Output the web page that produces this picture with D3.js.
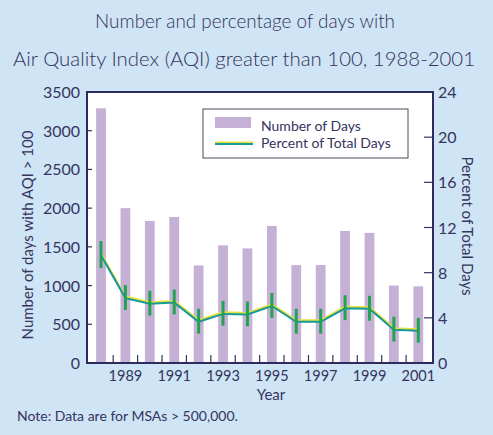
<!DOCTYPE html>
<html><head><meta charset="utf-8">
<script src="https://cdn.jsdelivr.net/npm/d3@7"></script>
<style>
html,body{margin:0;padding:0;background:#cfe4f4;}
svg{display:block;}
</style></head>
<body>
<svg id="chart" width="493" height="435"></svg>
<script>
const years = [1988,1989,1990,1991,1992,1993,1994,1995,1996,1997,1998,1999,2000,2001];
const numberOfDays = [3290,2000,1835,1885,1260,1520,1480,1770,1265,1265,1705,1680,1000,990];
const percentOfDays = [9.6,5.8,5.3,5.4,3.7,4.4,4.35,5.1,3.7,3.7,4.9,4.85,3.0,2.9];
const percentError = [1.2,1.1,1.1,1.1,1.1,1.1,1.1,1.1,1.1,1.1,1.1,1.1,1.1,1.1];
const leftTicks = [0,500,1000,1500,2000,2500,3000,3500];
const rightTicks = [0,4,8,12,16,20,24];
const yearLabels = [1989,1991,1993,1995,1997,1999,2001];
const titleLines = ["Number and percentage of days with","Air Quality Index (AQI) greater than 100, 1988-2001"];
const legendLabels = ["Number of Days","Percent of Total Days"];

const svg = d3.select("#chart");
const P = {l:87, r:433, t:92, b:363};
const ink = "#35345e";
const font = "Lato, 'Open Sans', sans-serif";

svg.append("rect").attr("width",493).attr("height",435).attr("fill","#cfe4f4");

const x = d3.scaleBand().domain(years).range([88.8, 430.5]).padding(0);
const yL = d3.scaleLinear().domain([0,3500]).range([P.b, P.t]);
const yR = d3.scaleLinear().domain([0,24]).range([P.b, P.t]);

svg.append("rect").attr("x",P.l).attr("y",P.t).attr("width",P.r-P.l).attr("height",P.b-P.t).attr("fill","#ffffff");

// title
const titleX = [95, 13], titleW = [300, 462], titleY = [28, 66];
svg.append("g").selectAll("text").data(titleLines).join("text")
  .attr("x",(d,i)=>titleX[i]).attr("y",(d,i)=>titleY[i])
  .attr("textLength",(d,i)=>titleW[i]).attr("lengthAdjust","spacingAndGlyphs")
  .attr("font-family",font).attr("font-weight",300)
  .attr("font-size",20.5).attr("fill","#33325e").text(d=>d);

// bars
const bw = 9.8;
const cx = d=>x(d)+x.bandwidth()/2;
svg.append("g").selectAll("rect").data(years).join("rect")
  .attr("x",d=>cx(d)-bw/2)
  .attr("y",(d,i)=>yL(numberOfDays[i]))
  .attr("width",bw)
  .attr("height",(d,i)=>P.b-yL(numberOfDays[i]))
  .attr("fill","#c6b1d6");

// percent line
const lineY = d3.line().x((d,i)=>cx(years[i])).y(d=>yR(d));
svg.append("path").datum(percentOfDays).attr("d",lineY).attr("fill","none")
  .attr("stroke","#e6e23a").attr("stroke-width",2).attr("transform","translate(0,-1)");
svg.append("path").datum(percentOfDays).attr("d",lineY).attr("fill","none")
  .attr("stroke","#17989a").attr("stroke-width",2).attr("transform","translate(0,0.6)");

// error bars
svg.append("g").selectAll("line").data(years).join("line")
  .attr("x1",d=>cx(d)).attr("x2",d=>cx(d))
  .attr("y1",(d,i)=>yR(percentOfDays[i]+percentError[i]))
  .attr("y2",(d,i)=>yR(percentOfDays[i]-percentError[i]))
  .attr("stroke","#22a352").attr("stroke-width",3);

// x ticks between bands (inward)
const bounds = years.slice(1).map(d=>x(d));
svg.append("g").selectAll("line").data(bounds).join("line")
  .attr("x1",d=>d).attr("x2",d=>d).attr("y1",P.b).attr("y2",P.b-8)
  .attr("stroke",ink).attr("stroke-width",1.2);

// left axis
svg.append("g").selectAll("line").data(leftTicks).join("line")
  .attr("x1",P.l).attr("x2",P.l+5).attr("y1",d=>yL(d)).attr("y2",d=>yL(d))
  .attr("stroke",ink).attr("stroke-width",1.2);
svg.append("g").selectAll("text").data(leftTicks).join("text")
  .attr("x",80).attr("y",d=>yL(d)+6).attr("text-anchor","end")
  .attr("font-family",font).attr("font-size",16).attr("fill",ink).text(d=>d);

// right axis
svg.append("g").selectAll("line").data(rightTicks).join("line")
  .attr("x1",P.r-9).attr("x2",P.r).attr("y1",d=>yR(d)).attr("y2",d=>yR(d))
  .attr("stroke",ink).attr("stroke-width",1.2);
svg.append("g").selectAll("text").data(rightTicks).join("text")
  .attr("x",438).attr("y",d=>yR(d)+6).attr("text-anchor","start")
  .attr("font-family",font).attr("font-size",16).attr("fill",ink).text(d=>d);

// x labels
svg.append("g").selectAll("text").data(yearLabels).join("text")
  .attr("x",d=>cx(d)).attr("y",381).attr("text-anchor","middle")
  .attr("font-family",font).attr("font-size",14.5).attr("fill",ink).text(d=>d);

// plot border
svg.append("rect").attr("x",P.l).attr("y",P.t).attr("width",P.r-P.l).attr("height",P.b-P.t)
  .attr("fill","none").attr("stroke","#2e2c5c").attr("stroke-width",2);

// axis titles
svg.append("text").attr("transform","translate(33,235) rotate(-90)").attr("text-anchor","middle")
  .attr("font-family",font).attr("font-size",15).attr("fill",ink).text("Number of days with AQI > 100");
svg.append("text").attr("transform","translate(462,226) rotate(90)").attr("text-anchor","middle")
  .attr("font-family",font).attr("font-size",15).attr("fill",ink).text("Percent of Total Days");
svg.append("text").attr("x",271).attr("y",400).attr("text-anchor","middle")
  .attr("font-family",font).attr("font-size",15).attr("fill",ink).text("Year");
svg.append("text").attr("x",17).attr("y",421)
  .attr("font-family",font).attr("font-size",14).attr("fill",ink).text("Note: Data are for MSAs > 500,000.");

// legend
const lg = svg.append("g");
lg.append("rect").attr("x",203).attr("y",109).attr("width",205).attr("height",49)
  .attr("fill","#ffffff").attr("stroke","#4a4a5a").attr("stroke-width",1);
lg.append("rect").attr("x",215).attr("y",117).attr("width",36).attr("height",11).attr("fill","#c6b1d6");
lg.append("line").attr("x1",215).attr("x2",253).attr("y1",142.5).attr("y2",142.5).attr("stroke","#e6e23a").attr("stroke-width",2);
lg.append("line").attr("x1",215).attr("x2",253).attr("y1",144).attr("y2",144).attr("stroke","#17989a").attr("stroke-width",2);
lg.selectAll("text.lt").data(legendLabels).join("text").attr("class","lt")
  .attr("x",261).attr("y",(d,i)=>i===0?131:148)
  .attr("font-family",font).attr("font-size",14).attr("fill",ink).text(d=>d);
</script>
</body></html>
